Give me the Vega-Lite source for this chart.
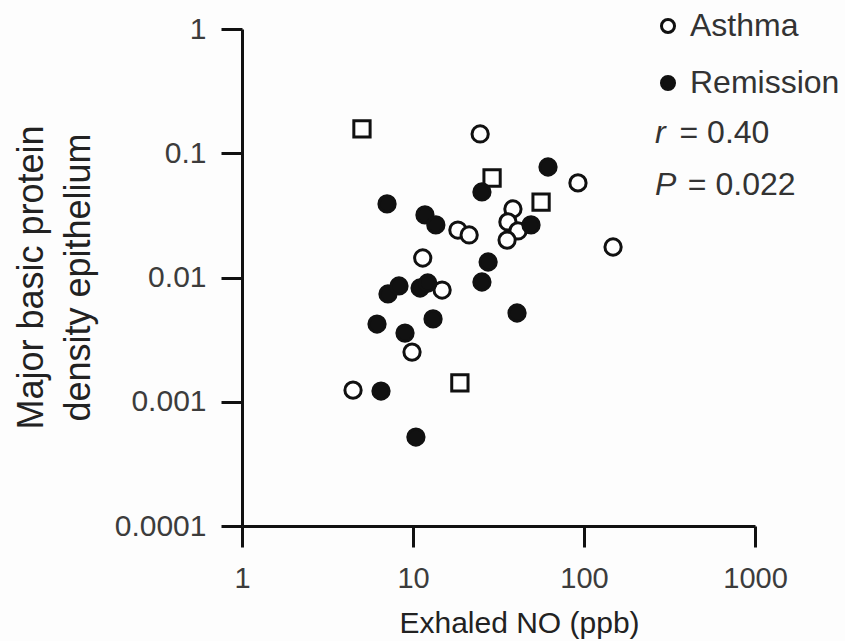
{
  "$schema": "https://vega.github.io/schema/vega-lite/v6.json",
  "width": 513,
  "height": 497,
  "autosize": {"type": "none"},
  "padding": {"left": 242, "top": 29, "right": 90, "bottom": 115},
  "background": "#fdfdfd",
  "config": {
    "view": {"stroke": null},
    "font": "Liberation Sans",
    "legend": {
      "orient": "none", "legendX": 410, "legendY": -19, "title": null, "padding": 0,
      "labelFontSize": 32, "labelColor": "#333333", "labelFont": "Liberation Sans",
      "symbolSize": 170, "symbolStrokeWidth": 3, "symbolStrokeColor": "#111111",
      "rowPadding": 25, "labelOffset": 6
    }
  },
  "data": {
    "values": [
      {"group": "Asthma", "no": 24.7, "mbp": 0.143},
      {"group": "Asthma", "no": 92.2, "mbp": 0.0577},
      {"group": "Asthma", "no": 38.4, "mbp": 0.0356},
      {"group": "Asthma", "no": 35.9, "mbp": 0.028},
      {"group": "Asthma", "no": 41.1, "mbp": 0.0237},
      {"group": "Asthma", "no": 35.5, "mbp": 0.02},
      {"group": "Asthma", "no": 18.3, "mbp": 0.0241},
      {"group": "Asthma", "no": 21.3, "mbp": 0.022},
      {"group": "Asthma", "no": 11.4, "mbp": 0.01435},
      {"group": "Asthma", "no": 14.8, "mbp": 0.00793},
      {"group": "Asthma", "no": 147.9, "mbp": 0.0176},
      {"group": "Asthma", "no": 9.87, "mbp": 0.00251},
      {"group": "Asthma", "no": 4.46, "mbp": 0.00124},
      {"group": "Other", "no": 5.03, "mbp": 0.157},
      {"group": "Other", "no": 29.0, "mbp": 0.0632},
      {"group": "Other", "no": 56.1, "mbp": 0.0405},
      {"group": "Other", "no": 18.8, "mbp": 0.00142},
      {"group": "Remission", "no": 61.6, "mbp": 0.0775},
      {"group": "Remission", "no": 25.3, "mbp": 0.0488},
      {"group": "Remission", "no": 7.05, "mbp": 0.0391},
      {"group": "Remission", "no": 11.75, "mbp": 0.0319},
      {"group": "Remission", "no": 13.6, "mbp": 0.0265},
      {"group": "Remission", "no": 49.0, "mbp": 0.0265},
      {"group": "Remission", "no": 27.5, "mbp": 0.01333},
      {"group": "Remission", "no": 25.3, "mbp": 0.0092},
      {"group": "Remission", "no": 7.14, "mbp": 0.00737},
      {"group": "Remission", "no": 8.28, "mbp": 0.00855},
      {"group": "Remission", "no": 11.0, "mbp": 0.00823},
      {"group": "Remission", "no": 12.2, "mbp": 0.00903},
      {"group": "Remission", "no": 6.16, "mbp": 0.00422},
      {"group": "Remission", "no": 13.1, "mbp": 0.00464},
      {"group": "Remission", "no": 8.98, "mbp": 0.00357},
      {"group": "Remission", "no": 40.6, "mbp": 0.00518},
      {"group": "Remission", "no": 6.5, "mbp": 0.00122},
      {"group": "Remission", "no": 10.4, "mbp": 0.00052}
    ]
  },
  "layer": [
    {
      "mark": {"type": "point", "strokeWidth": 3, "opacity": 1, "size": 265},
      "encoding": {
        "x": {
          "field": "no", "type": "quantitative",
          "scale": {"type": "log", "domain": [1, 1000]},
          "axis": {
            "values": [1, 10, 100, 1000], "format": "d", "grid": false,
            "domainColor": "#111111", "domainWidth": 3,
            "tickColor": "#111111", "tickWidth": 3, "tickSize": 21,
            "labelFontSize": 29, "labelColor": "#3c3c3c", "labelPadding": 17,
            "labelFlush": false, "labelOverlap": false,
            "title": "Exhaled NO (ppb)", "titleFontSize": 30, "titleFontWeight": "normal",
            "titleColor": "#222222", "titleX": 277, "titleY": 106, "titleBaseline": "alphabetic"
          }
        },
        "y": {
          "field": "mbp", "type": "quantitative",
          "scale": {"type": "log", "domain": [0.0001, 1]},
          "axis": {
            "values": [0.0001, 0.001, 0.01, 0.1, 1], "format": "~g", "grid": false,
            "domainColor": "#111111", "domainWidth": 3,
            "tickColor": "#111111", "tickWidth": 3, "tickSize": 21,
            "labelFontSize": 30, "labelColor": "#3c3c3c", "labelPadding": 15,
            "labelFlush": false, "labelOverlap": false,
            "title": ["Major basic protein", "density epithelium"],
            "titleFontSize": 36, "titleFontWeight": "normal", "titleColor": "#222222",
            "titleLineHeight": 47, "titleX": -192, "titleY": 248
          }
        },
        "shape": {
          "field": "group", "type": "nominal",
          "scale": {"domain": ["Asthma", "Remission", "Other"], "range": ["circle", "circle", "square"]},
          "legend": {"values": ["Asthma", "Remission"]}
        },
        "fill": {
          "field": "group", "type": "nominal",
          "scale": {"domain": ["Asthma", "Remission", "Other"], "range": ["#ffffff", "#111111", "#ffffff"]},
          "legend": {"values": ["Asthma", "Remission"]}
        },
        "stroke": {
          "field": "group", "type": "nominal",
          "scale": {"domain": ["Asthma", "Remission", "Other"], "range": ["#111111", "#111111", "#111111"]},
          "legend": {"values": ["Asthma", "Remission"]}
        }
      }
    },
    {
      "data": {"values": [{}]},
      "mark": {"type": "text", "text": "r", "fontStyle": "italic", "fontSize": 32, "align": "left", "baseline": "middle", "color": "#333333"},
      "encoding": {"x": {"datum": 260, "type": "quantitative"}, "y": {"datum": 0.1455, "type": "quantitative"}}
    },
    {
      "data": {"values": [{}]},
      "mark": {"type": "text", "text": "= 0.40", "fontSize": 32, "align": "left", "baseline": "middle", "color": "#333333"},
      "encoding": {"x": {"datum": 362, "type": "quantitative"}, "y": {"datum": 0.1455, "type": "quantitative"}}
    },
    {
      "data": {"values": [{}]},
      "mark": {"type": "text", "text": "P", "fontStyle": "italic", "fontSize": 32, "align": "left", "baseline": "middle", "color": "#333333"},
      "encoding": {"x": {"datum": 260, "type": "quantitative"}, "y": {"datum": 0.0555, "type": "quantitative"}}
    },
    {
      "data": {"values": [{}]},
      "mark": {"type": "text", "text": "= 0.022", "fontSize": 32, "align": "left", "baseline": "middle", "color": "#333333"},
      "encoding": {"x": {"datum": 405, "type": "quantitative"}, "y": {"datum": 0.0555, "type": "quantitative"}}
    }
  ]
}
